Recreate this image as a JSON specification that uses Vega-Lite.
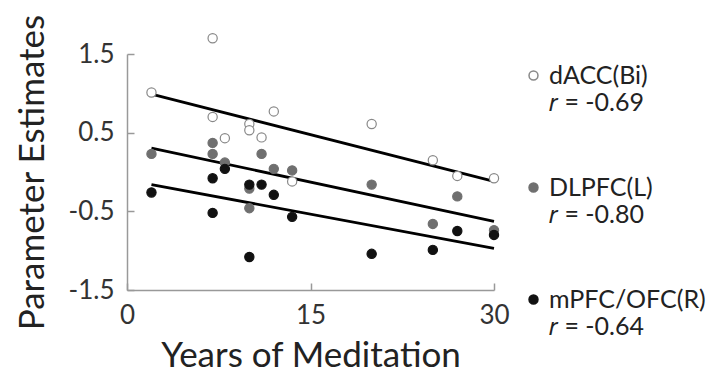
{
  "$schema": "https://vega.github.io/schema/vega-lite/v6.json",
  "width": 367,
  "height": 236,
  "autosize": {"type": "none"},
  "padding": {"left": 127, "top": 54, "right": 216, "bottom": 83},
  "background": "white",
  "config": {"view": {"stroke": null}, "font": "Lato"},
  "datasets": {
    "pts": [
      {"region": "dACC(Bi)", "years": 2, "est": 1.01},
      {"region": "dACC(Bi)", "years": 7, "est": 1.70},
      {"region": "dACC(Bi)", "years": 7, "est": 0.70},
      {"region": "dACC(Bi)", "years": 8, "est": 0.43},
      {"region": "dACC(Bi)", "years": 10, "est": 0.61},
      {"region": "dACC(Bi)", "years": 10, "est": 0.53},
      {"region": "dACC(Bi)", "years": 11, "est": 0.44},
      {"region": "dACC(Bi)", "years": 12, "est": 0.77},
      {"region": "dACC(Bi)", "years": 13.5, "est": -0.12},
      {"region": "dACC(Bi)", "years": 20, "est": 0.61},
      {"region": "dACC(Bi)", "years": 25, "est": 0.15},
      {"region": "dACC(Bi)", "years": 27, "est": -0.05},
      {"region": "dACC(Bi)", "years": 30, "est": -0.08},
      {"region": "DLPFC(L)", "years": 2, "est": 0.23},
      {"region": "DLPFC(L)", "years": 7, "est": 0.37},
      {"region": "DLPFC(L)", "years": 7, "est": 0.23},
      {"region": "DLPFC(L)", "years": 8, "est": 0.12},
      {"region": "DLPFC(L)", "years": 10, "est": -0.21},
      {"region": "DLPFC(L)", "years": 10, "est": -0.46},
      {"region": "DLPFC(L)", "years": 11, "est": 0.23},
      {"region": "DLPFC(L)", "years": 12, "est": 0.04},
      {"region": "DLPFC(L)", "years": 13.5, "est": 0.02},
      {"region": "DLPFC(L)", "years": 20, "est": -0.16},
      {"region": "DLPFC(L)", "years": 25, "est": -0.66},
      {"region": "DLPFC(L)", "years": 27, "est": -0.31},
      {"region": "DLPFC(L)", "years": 30, "est": -0.74},
      {"region": "mPFC/OFC(R)", "years": 2, "est": -0.26},
      {"region": "mPFC/OFC(R)", "years": 7, "est": -0.08},
      {"region": "mPFC/OFC(R)", "years": 7, "est": -0.52},
      {"region": "mPFC/OFC(R)", "years": 8, "est": 0.04},
      {"region": "mPFC/OFC(R)", "years": 10, "est": -0.16},
      {"region": "mPFC/OFC(R)", "years": 10, "est": -1.08},
      {"region": "mPFC/OFC(R)", "years": 11, "est": -0.16},
      {"region": "mPFC/OFC(R)", "years": 12, "est": -0.29},
      {"region": "mPFC/OFC(R)", "years": 13.5, "est": -0.57},
      {"region": "mPFC/OFC(R)", "years": 20, "est": -1.04},
      {"region": "mPFC/OFC(R)", "years": 25, "est": -0.99},
      {"region": "mPFC/OFC(R)", "years": 27, "est": -0.75},
      {"region": "mPFC/OFC(R)", "years": 30, "est": -0.80}
    ],
    "fits": [
      {"region": "dACC(Bi)", "years": 2, "est": 0.99},
      {"region": "dACC(Bi)", "years": 30, "est": -0.12},
      {"region": "DLPFC(L)", "years": 2, "est": 0.305},
      {"region": "DLPFC(L)", "years": 30, "est": -0.627},
      {"region": "mPFC/OFC(R)", "years": 2, "est": -0.16},
      {"region": "mPFC/OFC(R)", "years": 30, "est": -0.97}
    ]
  },
  "encoding": {
    "x": {
      "field": "years", "type": "quantitative",
      "scale": {"domain": [0, 30], "nice": false, "zero": false},
      "axis": {
        "title": "Years of Meditation", "values": [0, 15, 30], "grid": false, "labelFlush": false,
        "domainColor": "#999", "domainWidth": 1.5, "tickColor": "#999", "tickWidth": 1.5,
        "tickSize": -7, "labelPadding": 19, "labelFontSize": 26, "labelColor": "#333",
        "titleFontSize": 35, "titleFontWeight": "normal", "titleColor": "#222", "titlePadding": 10
      }
    },
    "y": {
      "field": "est", "type": "quantitative",
      "scale": {"domain": [-1.5, 1.5], "nice": false, "zero": false},
      "axis": {
        "title": "Parameter Estimates", "values": [-1.5, -0.5, 0.5, 1.5], "format": ".1f", "grid": false, "labelFlush": false,
        "labelExpr": "replace(datum.label, '−', '-')",
        "domainColor": "#999", "domainWidth": 1.5, "tickColor": "#999", "tickWidth": 1.5,
        "tickSize": -7, "labelPadding": 20, "labelFontSize": 26, "labelColor": "#333",
        "titleFontSize": 35, "titleFontWeight": "normal", "titleColor": "#222", "titlePadding": 18
      }
    }
  },
  "layer": [
    {
      "data": {"name": "fits"},
      "mark": {"type": "line", "color": "black", "strokeWidth": 2.8},
      "encoding": {"detail": {"field": "region"}}
    },
    {
      "data": {"name": "pts"},
      "mark": {"type": "point", "shape": "circle", "filled": false, "size": 85, "opacity": 1, "strokeWidth": 1.2},
      "encoding": {
        "fill": {
          "field": "region", "type": "nominal",
          "scale": {"domain": ["dACC(Bi)", "DLPFC(L)", "mPFC/OFC(R)"], "range": ["white", "#6f6f6f", "#111111"]},
          "legend": {
            "title": null, "orient": "right", "offset": 12, "padding": 9,
            "labelExpr": "datum.label == 'dACC(Bi)' ? ['dACC(Bi)', '𝑟 = -0.69'] : datum.label == 'DLPFC(L)' ? ['DLPFC(L)', '𝑟 = -0.80'] : ['mPFC/OFC(R)', '𝑟 = -0.64']",
            "labelFontSize": 25, "labelColor": "#222", "labelLimit": 300,
            "symbolSize": 80, "rowPadding": 59, "labelOffset": 3
          }
        },
        "stroke": {
          "field": "region", "type": "nominal",
          "scale": {"domain": ["dACC(Bi)", "DLPFC(L)", "mPFC/OFC(R)"], "range": ["#888888", "#6f6f6f", "#111111"]}
        }
      }
    }
  ]
}
